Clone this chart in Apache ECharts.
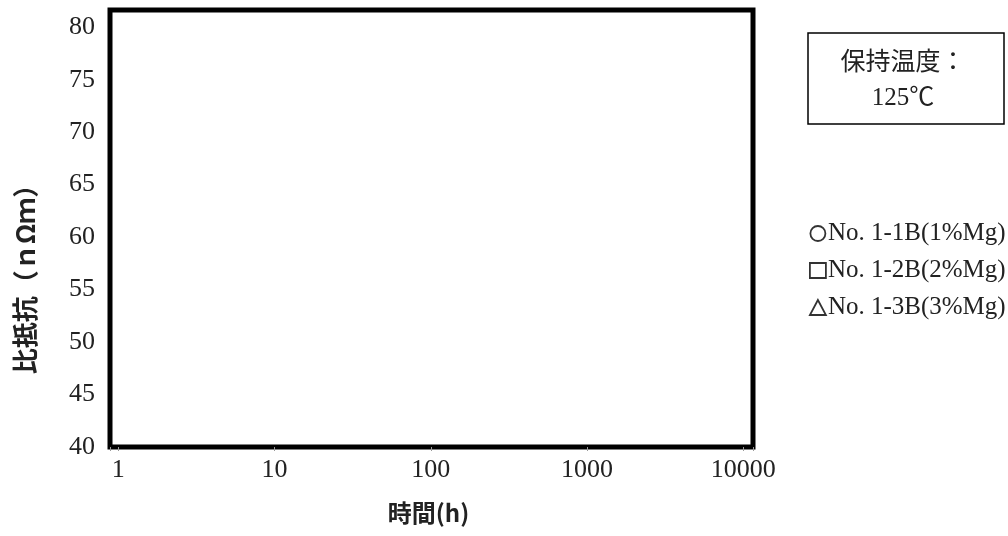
<!DOCTYPE html>
<html>
<head>
<meta charset="utf-8">
<style>
  html, body { margin: 0; padding: 0; background: #fff; }
  #chart { width: 1008px; height: 536px; }
</style>
<script src="https://cdn.jsdelivr.net/npm/echarts@6.0.0/dist/echarts.min.js"></script>
</head>
<body>
<div id="chart"></div>
<script>
// 比抵抗の経時変化 (保持温度 125℃) -- 測定点はまだ無い
var seriesNames = ['No. 1-1B(1%Mg)', 'No. 1-2B(2%Mg)', 'No. 1-3B(3%Mg)']
var seriesSymbols = ['circle', 'rect', 'triangle']
var seriesData = [[], [], []] // [時間(h), 比抵抗] の組

var yTicks = [40, 45, 50, 55, 60, 65, 70, 75, 80]
var yMin = 40
var yMax = 81.64
var xMin = 0.885
var xMax = 11550

var serif = '"Liberation Serif", "Noto Sans CJK JP", serif'
var gothic = '"Noto Sans CJK JP", sans-serif'
var textColor = '#222'

function isPow10(v) {
  var e = Math.log10(v)
  return Math.abs(e - Math.round(e)) < 1e-6
}

var series = []
for (var i = 0; i < seriesNames.length; i++) {
  series.push({
    name: seriesNames[i],
    type: 'scatter',
    symbol: seriesSymbols[i],
    symbolSize: 12,
    itemStyle: {
      color: '#fff',
      borderColor: '#000',
      borderWidth: 1.5
    },
    data: seriesData[i]
  })
}

var chart = echarts.init(document.getElementById('chart'))
chart.setOption({
  backgroundColor: '#fff',
  animation: false,
  grid: {
    left: 110,
    top: 10,
    right: 255,
    bottom: 89,
    show: true,
    borderColor: '#000',
    borderWidth: 5,
    backgroundColor: 'transparent'
  },
  xAxis: {
    type: 'log',
    logBase: 10,
    min: xMin,
    max: xMax,
    name: '時間(h)',
    nameLocation: 'middle',
    nameGap: 54,
    nameTextStyle: {
      fontFamily: gothic,
      fontWeight: 'bold',
      fontSize: 24,
      color: textColor,
      padding: [0, 6, 0, 0]
    },
    axisLine: { show: false },
    axisTick: {
      show: true,
      length: 4,
      lineStyle: { color: '#999', width: 1 }
    },
    axisLabel: {
      margin: 10,
      fontFamily: serif,
      fontSize: 26,
      color: textColor,
      formatter: function (v) {
        return isPow10(v) ? String(Math.round(v)) : ''
      }
    },
    splitLine: { show: false },
    minorTick: { show: false }
  },
  yAxis: {
    type: 'value',
    min: yMin,
    max: yMax,
    axisLine: { show: false },
    axisTick: { show: false },
    axisLabel: {
      customValues: yTicks,
      margin: 15,
      fontFamily: serif,
      fontSize: 26,
      color: textColor
    },
    splitLine: { show: false }
  },
  legend: {
    orient: 'vertical',
    left: 804,
    top: 216,
    itemGap: 12,
    itemWidth: 16,
    itemHeight: 15,
    data: seriesNames.map(function (n, i) {
      return { name: n, icon: seriesSymbols[i] }
    }),
    itemStyle: {
      color: '#fff',
      borderColor: '#000',
      borderWidth: 1.8
    },
    textStyle: {
      fontFamily: serif,
      fontSize: 25,
      color: textColor,
      padding: [0, 0, 0, -3]
    }
  },
  graphic: [
    // 保持温度の注記
    {
      type: 'rect',
      shape: { x: 808, y: 33, width: 196, height: 91 },
      style: { fill: '#fff', stroke: '#000', lineWidth: 1.5 }
    },
    {
      type: 'text',
      x: 903,
      y: 81,
      style: {
        text: '保持温度：\n125℃',
        fontFamily: serif,
        fontSize: 25,
        lineHeight: 35,
        fill: textColor,
        align: 'center',
        verticalAlign: 'middle'
      }
    },
    // 縦軸名
    {
      type: 'text',
      x: 25,
      y: 273,
      rotation: Math.PI / 2,
      style: {
        text: '比抵抗（ｎΩｍ）',
        fontFamily: gothic,
        fontWeight: 'bold',
        fontSize: 26,
        fill: textColor,
        align: 'center',
        verticalAlign: 'middle'
      }
    }
  ],
  series: series
})
</script>
</body>
</html>
